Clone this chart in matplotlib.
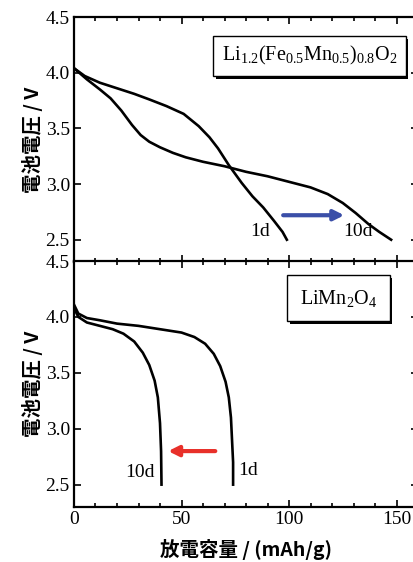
import matplotlib.pyplot as plt
import matplotlib.patheffects as pe
from matplotlib.ticker import MultipleLocator

# Li1.2(Fe0.5Mn0.5)0.8O2
fe_1d_x = [0, 5, 12, 20, 28, 35, 43, 51, 58, 63, 67, 72, 78, 83, 88, 93, 97, 99]
fe_1d_y = [4.04, 3.97, 3.91, 3.86, 3.81, 3.76, 3.70, 3.63, 3.52, 3.42, 3.32, 3.17, 3.01, 2.89, 2.79, 2.67, 2.57, 2.50]
fe_10d_x = [0, 6, 12, 17, 22, 27, 31, 35, 40, 46, 52, 60, 70, 80, 90, 100, 110, 118, 125, 131, 137, 142, 147.5]
fe_10d_y = [4.04, 3.94, 3.85, 3.77, 3.66, 3.53, 3.44, 3.38, 3.33, 3.28, 3.24, 3.20, 3.16, 3.11, 3.07, 3.02, 2.97, 2.91, 2.83, 2.74, 2.64, 2.57, 2.50]

# LiMn2O4
mn_1d_x = [0, 2, 6, 12, 20, 30, 40, 50, 56, 61, 65, 68, 70.5, 72, 73, 73.5, 74, 74]
mn_1d_y = [4.11, 4.03, 3.99, 3.97, 3.94, 3.92, 3.89, 3.86, 3.82, 3.76, 3.67, 3.56, 3.42, 3.28, 3.10, 2.90, 2.70, 2.50]
mn_10d_x = [0, 2, 6, 12, 18, 23, 28, 32, 35, 37.5, 39, 40, 40.5, 40.7]
mn_10d_y = [4.08, 4.00, 3.95, 3.92, 3.89, 3.85, 3.78, 3.68, 3.57, 3.43, 3.28, 3.05, 2.80, 2.50]

yticks = [2.5, 3.0, 3.5, 4.0, 4.5]
xticks = [0, 50, 100, 150]

serif = 'Liberation Serif'
jp = ['Noto Sans CJK JP', 'DejaVu Sans']
plt.rcParams['font.family'] = serif
plt.rcParams['mathtext.fontset'] = 'custom'
plt.rcParams['mathtext.rm'] = serif
plt.rcParams['mathtext.it'] = serif

fig = plt.figure(figsize=(4.14, 5.62), dpi=100)
ax1 = fig.add_axes([74 / 414, 1 - 262 / 562, 344 / 414, 245 / 562])
ax2 = fig.add_axes([74 / 414, 1 - 507 / 562, 344 / 414, 246 / 562])

for ax in (ax1, ax2):
    ax.set_xlim(0, 160)
    ax.set_ylim(2.3, 4.5)
    ax.set_yticks(yticks)
    ax.set_xticks(xticks)
    ax.xaxis.set_minor_locator(MultipleLocator(10))
    ax.tick_params(which='both', direction='in', top=True, right=True, width=1.2, labelsize=14, pad=3)
    ax.tick_params(which='major', length=5)
    ax.tick_params(which='minor', length=3)
    for s in ax.spines.values():
        s.set_linewidth(1.6)
    ax.set_ylabel('電池電圧 / V', family=jp, fontsize=14, fontweight='bold', labelpad=2)

ax1.tick_params(axis='x', labelbottom=False)
ax2.set_xlabel('放電容量 / (mAh/g)', family=jp, fontsize=14, fontweight='bold', labelpad=8)

ax1.plot(fe_1d_x, fe_1d_y, color='black', lw=1.9)
ax1.plot(fe_10d_x, fe_10d_y, color='black', lw=1.9)
ax2.plot(mn_1d_x, mn_1d_y, color='black', lw=1.9)
ax2.plot(mn_10d_x, mn_10d_y, color='black', lw=1.9)

ax1.annotate('', xy=(127, 2.72), xytext=(96, 2.72),
             arrowprops=dict(arrowstyle='-|>,head_length=0.6,head_width=0.3', color='#3b4fa8', lw=3))
ax2.annotate('', xy=(42.5, 2.80), xytext=(67, 2.80),
             arrowprops=dict(arrowstyle='-|>,head_length=0.6,head_width=0.3', color='#e8302a', lw=3))

ax1.text(86.5, 2.57, '1d', fontsize=14, ha='center', va='center')
ax1.text(132, 2.57, '10d', fontsize=14, ha='center', va='center')
ax2.text(30.5, 2.61, '10d', fontsize=14, ha='center', va='center')
ax2.text(81, 2.63, '1d', fontsize=14, ha='center', va='center')

shadow = [pe.SimplePatchShadow(offset=(2, -2), shadow_rgbFace='black', alpha=1), pe.Normal()]
t1 = ax1.text(109.5, 4.15, r'Li$_{1.2}$(Fe$_{0.5}$Mn$_{0.5}$)$_{0.8}$O$_2$',
              fontsize=14.5, ha='center', va='center',
              bbox=dict(boxstyle='square,pad=0.42', fc='white', ec='black', lw=1.0))
t2 = ax2.text(123, 4.165, r'LiMn$_2$O$_4$', fontsize=14.5, ha='center', va='center',
              bbox=dict(boxstyle='square,pad=0.62', fc='white', ec='black', lw=1.0))
for t in (t1, t2):
    t.get_bbox_patch().set_path_effects(shadow)

fig.savefig('out.png', dpi=100)
